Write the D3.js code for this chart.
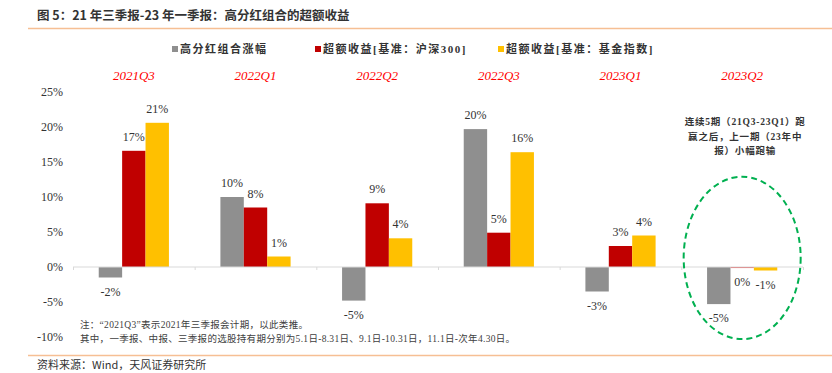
<!DOCTYPE html>
<html>
<head>
<meta charset="utf-8">
<script src="https://cdn.jsdelivr.net/npm/d3@7/dist/d3.min.js"></script>
<style>
  body { margin: 0; background: #fff; }
  svg { display: block; }
</style>
</head>
<body>
<div class="container"></div>
<script>
const quarters = ["2021Q3", "2022Q1", "2022Q2", "2022Q3", "2023Q1", "2023Q2"]
const seriesNames = ["高分红组合涨幅", "超额收益[基准：沪深300]", "超额收益[基准：基金指数]"]
const dividendReturn = [-1.5, 10.0, -4.8, 19.7, -3.5, -5.3]
const excessHS300 = [16.6, 8.5, 9.1, 4.9, 3.0, -0.15]
const excessFundIdx = [20.6, 1.5, 4.1, 16.4, 4.5, -0.5]
const labelsDividend = ["-2%", "10%", "-5%", "20%", "-3%", "-5%"]
const labelsHS300 = ["17%", "8%", "9%", "5%", "3%", "0%"]
const labelsFundIdx = ["21%", "1%", "4%", "16%", "4%", "-1%"]
const yTicks = [-10, -5, 0, 5, 10, 15, 20, 25]
const colors = ["#8f8f8f", "#c00000", "#ffc000"]

const loadGraph = () => {
    const w = 832
    const h = 373
    const serif = "'Liberation Serif', 'Times New Roman', 'Noto Sans CJK SC', serif"
    const sans = "'Noto Sans CJK SC', 'Liberation Sans', sans-serif"

    const series = [dividendReturn, excessHS300, excessFundIdx]
    const labels = [labelsDividend, labelsHS300, labelsFundIdx]

    const svg = d3.select(".container")
        .append("svg")
        .attr("width", w)
        .attr("height", h)

    // title + rules
    svg.append("text")
        .attr("x", 37)
        .attr("y", 20)
        .style("font-family", sans)
        .style("font-size", "12.5px")
        .style("font-weight", "bold")
        .attr("fill", "#333")
        .text("图 5：21 年三季报-23 年一季报：高分红组合的超额收益")

    svg.append("line")
        .attr("x1", 28).attr("x2", w)
        .attr("y1", 28.5).attr("y2", 28.5)
        .attr("stroke", "#f6bf94")
        .attr("stroke-width", 1.5)

    svg.append("line")
        .attr("x1", 28).attr("x2", w)
        .attr("y1", 355.5).attr("y2", 355.5)
        .attr("stroke", "#f6bf94")
        .attr("stroke-width", 1.5)

    svg.append("text")
        .attr("x", 37)
        .attr("y", 369)
        .style("font-family", sans)
        .style("font-size", "11px")
        .attr("fill", "#333")
        .text("资料来源：Wind，天风证券研究所")

    // scales
    const xScale = d3.scaleBand().domain(quarters).range([73, 803]).padding(0)
    const xInner = d3.scaleBand().domain(d3.range(3)).range([0, xScale.bandwidth()])
        .paddingInner(0).paddingOuter(1.1)
    const yScale = d3.scaleLinear().domain([-10, 25]).range([337, 92])

    // y axis labels (no line)
    const yAxis = d3.axisLeft(yScale).tickValues(yTicks).tickFormat(d => d + "%").tickSize(0).tickPadding(0)
    const yG = svg.append("g")
        .attr("transform", "translate(63,0)")
        .call(yAxis)
    yG.select(".domain").remove()
    yG.selectAll("text")
        .style("font-family", serif)
        .style("font-size", "12px")
        .attr("fill", "#333")

    // bars
    series.forEach((vals, si) => {
        svg.append("g").selectAll("rect")
            .data(vals)
            .enter()
            .append("rect")
            .attr("x", (d, i) => xScale(quarters[i]) + xInner(si))
            .attr("width", xInner.bandwidth())
            .attr("y", d => yScale(Math.max(0, d)))
            .attr("height", d => Math.abs(yScale(d) - yScale(0)))
            .attr("fill", si == 1 ? (d => d < 0 && d > -0.5 ? "#e05050" : colors[si]) : colors[si])

        svg.append("g").selectAll("text")
            .data(vals)
            .enter()
            .append("text")
            .attr("x", (d, i) => xScale(quarters[i]) + xInner(si) + xInner.bandwidth() / 2)
            .attr("y", d => d >= 0 ? yScale(d) - 10 : yScale(d) + 18)
            .attr("text-anchor", "middle")
            .style("font-family", serif)
            .style("font-size", "12px")
            .attr("fill", "#333")
            .text((d, i) => labels[si][i])
    })

    // x axis (zero line with ticks)
    const xAxis = d3.axisBottom(d3.scaleLinear().domain([0, 6]).range([73, 803]))
        .ticks(6).tickSize(3).tickFormat("")
    const xG = svg.append("g")
        .attr("transform", "translate(0," + yScale(0) + ")")
        .call(xAxis)
    xG.select(".domain").attr("stroke", "#d9d9d9").attr("d", "M73,0H803")
    xG.selectAll("line").attr("stroke", "#d9d9d9")

    // quarter labels on top
    svg.append("g").selectAll("text")
        .data(quarters)
        .enter()
        .append("text")
        .attr("x", d => xScale(d) + xScale.bandwidth() / 2)
        .attr("y", 80)
        .attr("text-anchor", "middle")
        .style("font-family", serif)
        .style("font-size", "13px")
        .style("font-style", "italic")
        .attr("fill", "#ff0000")
        .text(d => d)

    // legend
    const legendX = [172, 315, 498]
    const legend = svg.append("g").selectAll("g")
        .data(seriesNames)
        .enter()
        .append("g")
        .attr("transform", (d, i) => "translate(" + legendX[i] + ",46)")
    legend.append("rect")
        .attr("width", 6).attr("height", 6)
        .attr("fill", (d, i) => colors[i])
    legend.append("text")
        .attr("x", 8).attr("y", 7)
        .style("font-family", serif)
        .style("font-size", "11px")
        .style("font-weight", "bold")
        .style("letter-spacing", "1.5px")
        .attr("fill", "#333")
        .text(d => d)

    // notes
    const notes = [
        "注：“2021Q3”表示2021年三季报会计期，以此类推。",
        "其中，一季报、中报、三季报的选股持有期分别为5.1日-8.31日、9.1日-10.31日，11.1日-次年4.30日。"
    ]
    svg.append("g").selectAll("text")
        .data(notes)
        .enter()
        .append("text")
        .attr("x", 80)
        .attr("y", (d, i) => 328 + i * 14)
        .style("font-family", serif)
        .style("font-size", "9.5px")
        .style("letter-spacing", "0.3px")
        .attr("fill", "#404040")
        .text(d => d)

    // annotation on last quarter
    const lastX = xScale("2023Q2") + xScale.bandwidth() / 2
    svg.append("ellipse")
        .attr("cx", lastX)
        .attr("cy", (yScale(12.9) + yScale(-10.3)) / 2)
        .attr("rx", 58.5)
        .attr("ry", (yScale(-10.3) - yScale(12.9)) / 2)
        .attr("fill", "none")
        .attr("stroke", "#00b050")
        .attr("stroke-width", 2)
        .attr("stroke-dasharray", "6,4")

    const annot = ["连续5期（21Q3-23Q1）跑", "赢之后，上一期（23年中", "报）小幅跑输"]
    svg.append("g").selectAll("text")
        .data(annot)
        .enter()
        .append("text")
        .attr("x", lastX + 3)
        .attr("y", (d, i) => 125 + i * 14.5)
        .attr("text-anchor", "middle")
        .style("font-family", serif)
        .style("font-size", "9.5px")
        .style("font-weight", "bold")
        .style("letter-spacing", "0.8px")
        .attr("fill", "#333")
        .text(d => d)
}

document.addEventListener("DOMContentLoaded", loadGraph())
</script>
</body>
</html>
